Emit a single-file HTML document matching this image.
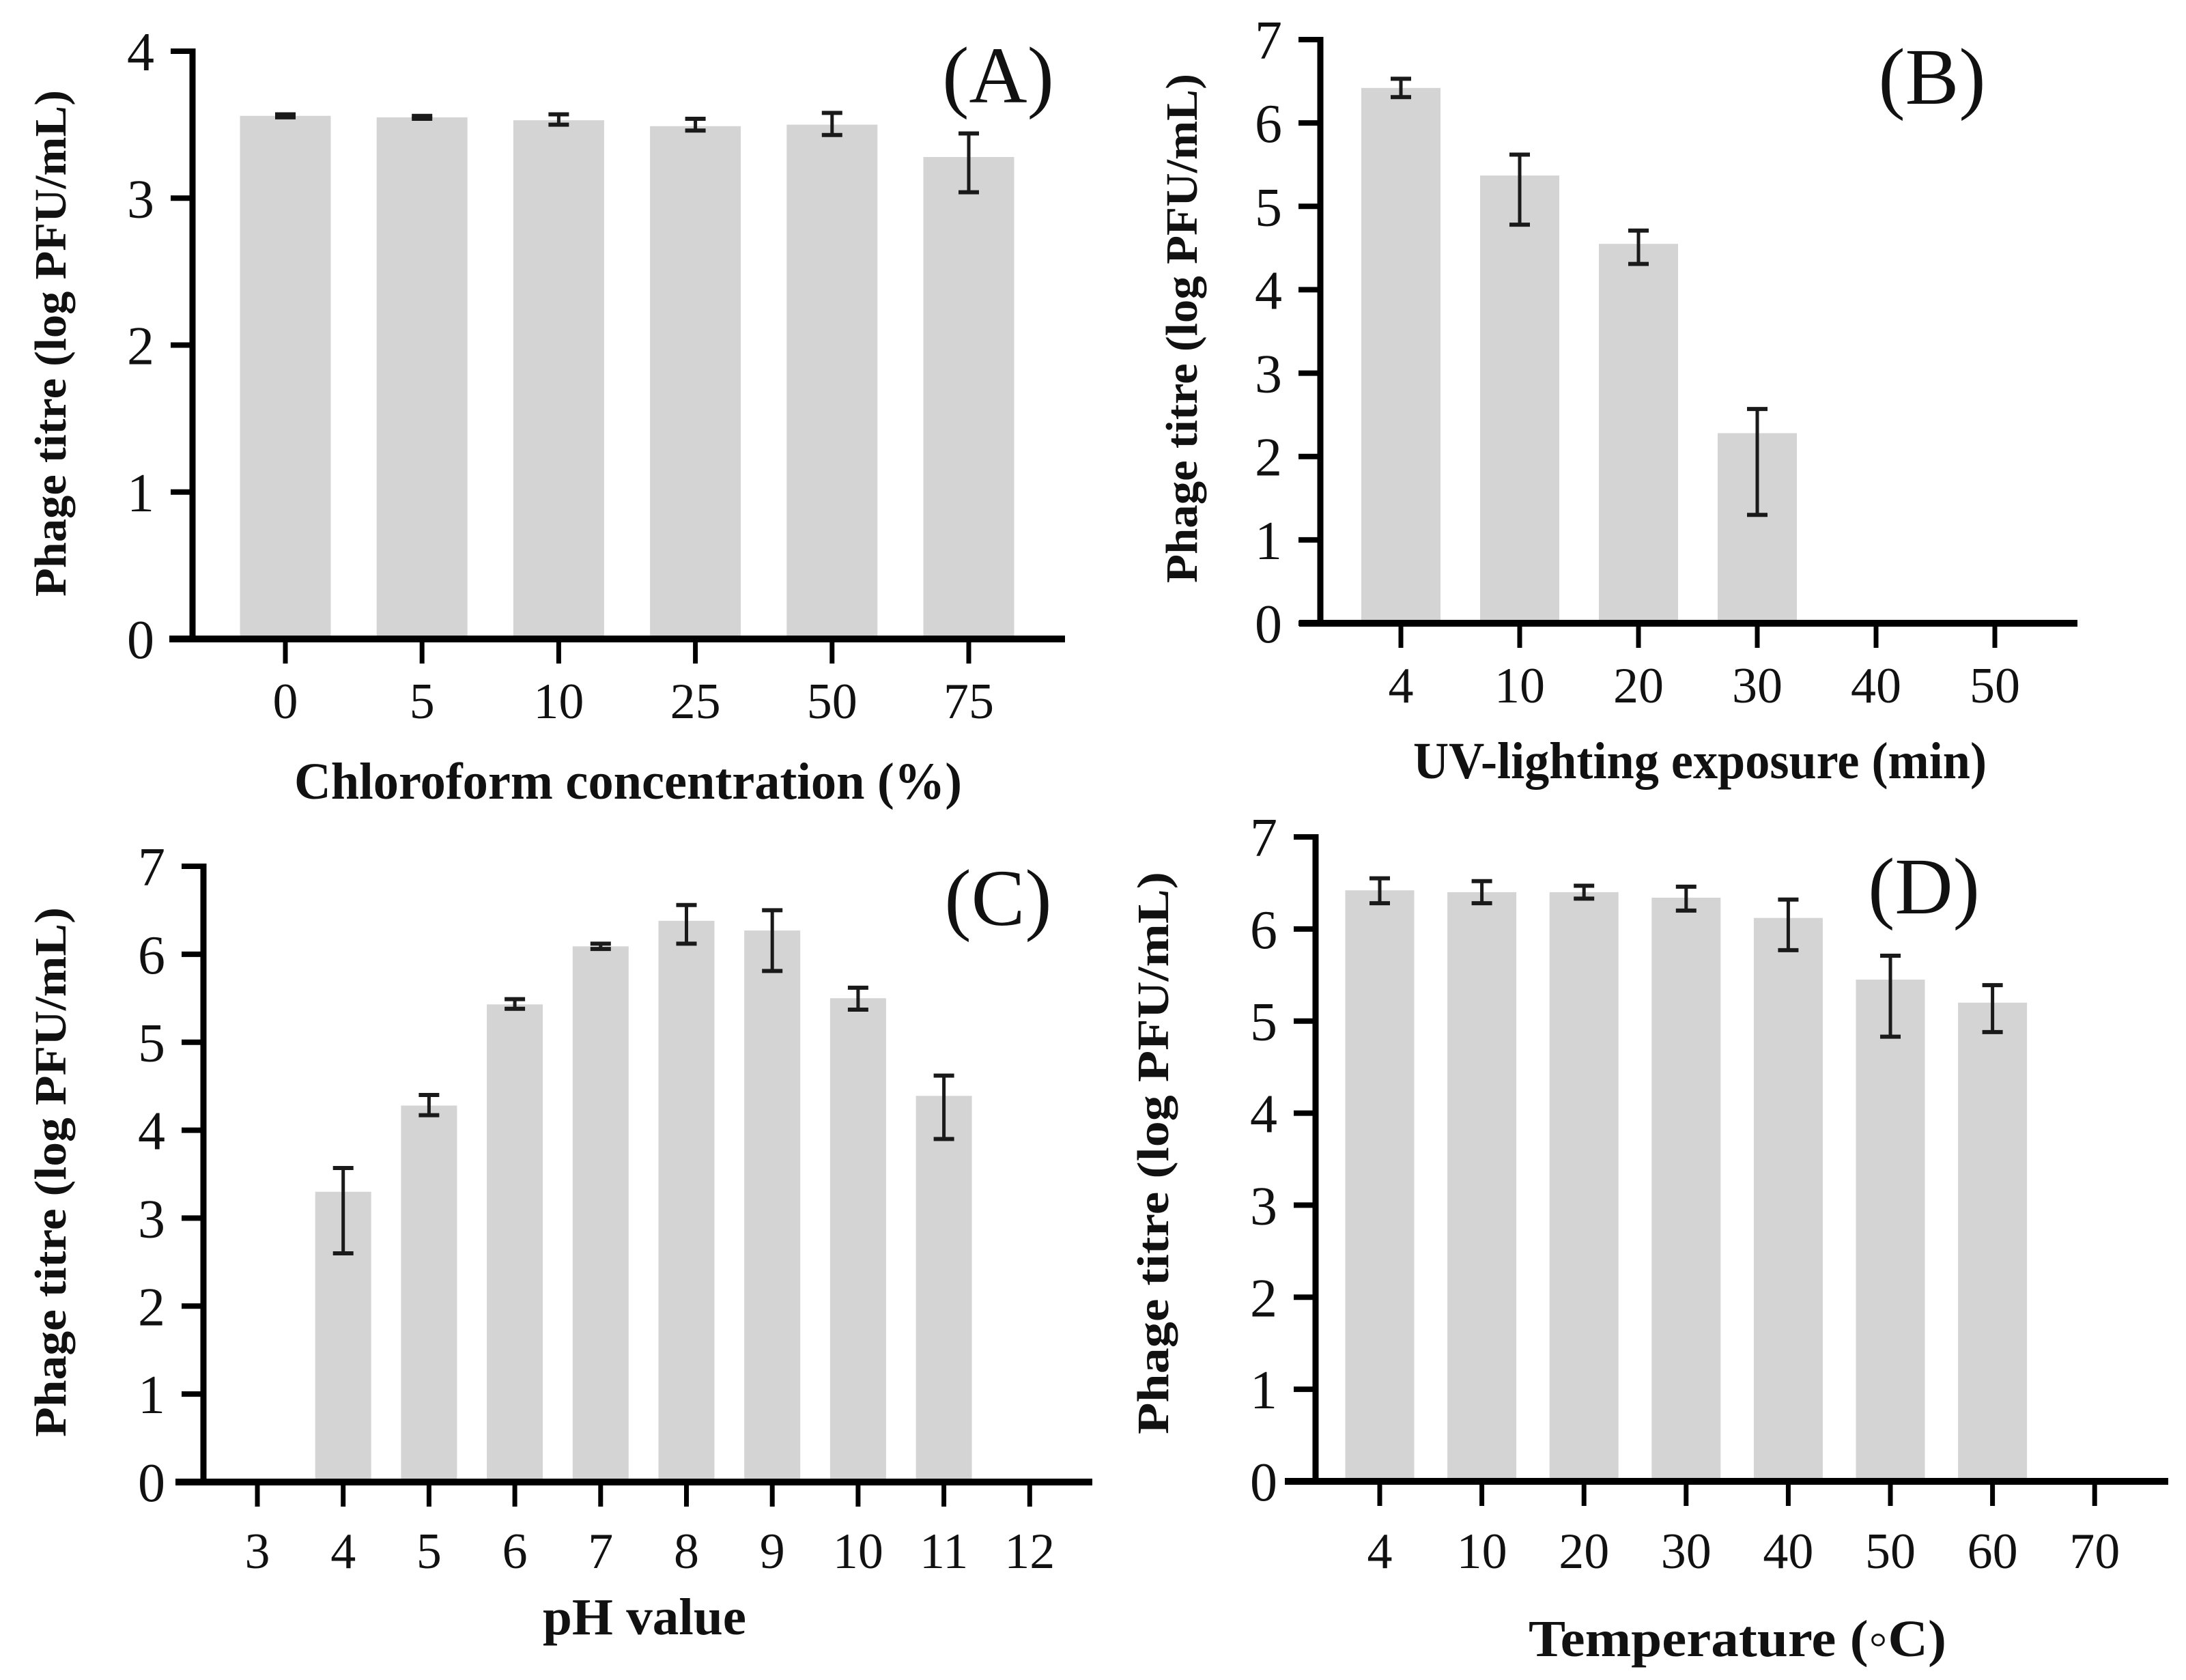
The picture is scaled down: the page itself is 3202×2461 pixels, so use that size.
<!DOCTYPE html>
<html><head><meta charset="utf-8"><style>
html,body{margin:0;padding:0;background:#fff;}
svg{display:block;}
text{font-family:"Liberation Serif",serif;fill:#111;}
</style></head><body>
<svg id="fig" width="3202" height="2461" viewBox="0 0 3202 2461" xmlns="http://www.w3.org/2000/svg"></svg>
<script>
// Panel A data
const catsA = ["0","5","10","25","50","75"];
const valsA = [3.56,3.55,3.53,3.49,3.50,3.28];
const hiA = [3.57,3.56,3.57,3.54,3.58,3.44];
const loA = [3.55,3.54,3.50,3.46,3.43,3.04];
const yTicksA = [0,1,2,3,4];
// Panel B data
const catsB = ["4","10","20","30","40","50"];
const valsB = [6.42,5.37,4.55,2.28,null,null];
const hiB = [6.53,5.62,4.71,2.57,null,null];
const loB = [6.31,4.78,4.31,1.30,null,null];
const yTicksB = [0,1,2,3,4,5,6,7];
// Panel C data
const catsC = ["3","4","5","6","7","8","9","10","11","12"];
const valsC = [null,3.30,4.28,5.43,6.09,6.38,6.27,5.50,4.39,null];
const hiC = [null,3.57,4.40,5.49,6.12,6.56,6.50,5.62,4.62,null];
const loC = [null,2.60,4.17,5.38,6.06,6.12,5.81,5.37,3.90,null];
const yTicksC = [0,1,2,3,4,5,6,7];
// Panel D data
const catsD = ["4","10","20","30","40","50","60","70"];
const valsD = [6.42,6.40,6.40,6.34,6.12,5.45,5.20,null];
const hiD = [6.55,6.52,6.47,6.46,6.32,5.71,5.39,null];
const loD = [6.28,6.28,6.33,6.20,5.77,4.83,4.88,null];
const yTicksD = [0,1,2,3,4,5,6,7];

const NS="http://www.w3.org/2000/svg";
const svg=document.getElementById('fig');
function mk(tag,attrs,parent){const e=document.createElementNS(NS,tag);for(const k in attrs)e.setAttribute(k,attrs[k]);(parent||svg).appendChild(e);return e;}

function panel(p){
  const g=mk('g',{});
  
  
  const yMax=p.yTicks[p.yTicks.length-1];
  const yS=v=>p.y0-(v/yMax)*(p.y0-p.yTop);
  const xS=i=>p.x0tick+i*p.step;
  p.vals.forEach((v,i)=>{
    if(v===null)return;
    const r=mk('rect',{x:xS(i)-p.bw/2,y:yS(v),width:p.bw,height:p.y0-yS(v),fill:'#d4d4d4'},g);
    
    
  });
  p.vals.forEach((v,i)=>{
    if(v===null)return;
    const eg=mk('g',{stroke:'#1a1a1a','stroke-width':5},g);
    
    
    const x=xS(i),a=yS(p.hi[i]),b=yS(p.lo[i]);
    mk('line',{x1:x,y1:a,x2:x,y2:b},eg);
    mk('line',{x1:x-15,y1:a,x2:x+15,y2:a,'stroke-width':6},eg);
    mk('line',{x1:x-15,y1:b,x2:x+15,y2:b,'stroke-width':6},eg);
  });
  const ya=mk('line',{x1:p.ax,y1:p.yTop-4,x2:p.ax,y2:p.y0+5,stroke:'#000','stroke-width':9},g);
  
  
  const xa=mk('line',{x1:p.xaStart,y1:p.y0,x2:p.xaEnd,y2:p.y0,stroke:'#000','stroke-width':10},g);
  
  
  p.yTicks.forEach(t=>{
    const y=yS(t);
    mk('line',{x1:p.ax-32,y1:y,x2:p.ax,y2:y,stroke:'#000','stroke-width':8},g);
    const tx=mk('text',{x:p.ax-56,y:y+28,'font-size':80,'text-anchor':'end'},g);
    tx.textContent=t;
    
    
  });
  p.cats.forEach((c,i)=>{
    const x=xS(i);
    mk('line',{x1:x,y1:p.y0,x2:x,y2:p.y0+36,stroke:'#000','stroke-width':7},g);
    const tx=mk('text',{x:x,y:p.tickLabelY,'font-size':74,'text-anchor':'middle'},g);
    tx.textContent=c;
    
    
  });
  const xt=mk('text',{x:p.xtX,y:p.xtY,'font-size':76,'font-weight':'bold','text-anchor':'middle',textLength:p.xtLen,lengthAdjust:'spacingAndGlyphs'},g);
  xt.textContent=p.xTitle;
  
  
  const yt=mk('text',{x:0,y:0,'font-size':66,'font-weight':'bold','text-anchor':'middle',textLength:p.ytLen,lengthAdjust:'spacingAndGlyphs',transform:'translate('+p.ytX+','+p.ytY+') rotate(-90)'},g);
  yt.textContent='Phage titre (log PFU/mL)';
  
  
  const lb=mk('text',{x:p.lbX,y:p.lbY,'font-size':118,'text-anchor':'middle'},g);
  lb.textContent='('+p.id+')';
  
  
}

panel({id:'A',cats:catsA,vals:valsA,hi:hiA,lo:loA,yTicks:yTicksA,ax:282,yTop:75,y0:936,xaStart:248,xaEnd:1560,x0tick:418,step:200.2,bw:133,tickLabelY:1052,xTitle:'Chloroform concentration (%)',xtX:920,xtY:1170,xtLen:978,ytX:96,ytY:503,ytLen:742,lbX:1462,lbY:150});
panel({id:'B',cats:catsB,vals:valsB,hi:hiB,lo:loB,yTicks:yTicksB,ax:1934,yTop:58,y0:913,xaStart:1903,xaEnd:3043,x0tick:2052,step:174,bw:116,tickLabelY:1029,xTitle:'UV-lighting exposure (min)',xtX:2490,xtY:1140,xtLen:840,ytX:1753,ytY:481,ytLen:746,lbX:2830,lbY:152});
panel({id:'C',cats:catsC,vals:valsC,hi:hiC,lo:loC,yTicks:yTicksC,ax:298,yTop:1269,y0:2171,xaStart:257,xaEnd:1600,x0tick:377,step:125.7,bw:82,tickLabelY:2297,xTitle:'pH value',xtX:944,xtY:2394,xtLen:298,ytX:96,ytY:1717,ytLen:776,lbX:1462,lbY:1355});
panel({id:'D',cats:catsD,vals:valsD,hi:hiD,lo:loD,yTicks:yTicksD,ax:1927,yTop:1226,y0:2170,xaStart:1882,xaEnd:3176,x0tick:2021,step:149.6,bw:101,tickLabelY:2297,xTitle:'Temperature (◦C)',xtX:2545,xtY:2426,xtLen:612,ytX:1711,ytY:1689,ytLen:824,lbX:2818,lbY:1338});
</script>
</body></html>
